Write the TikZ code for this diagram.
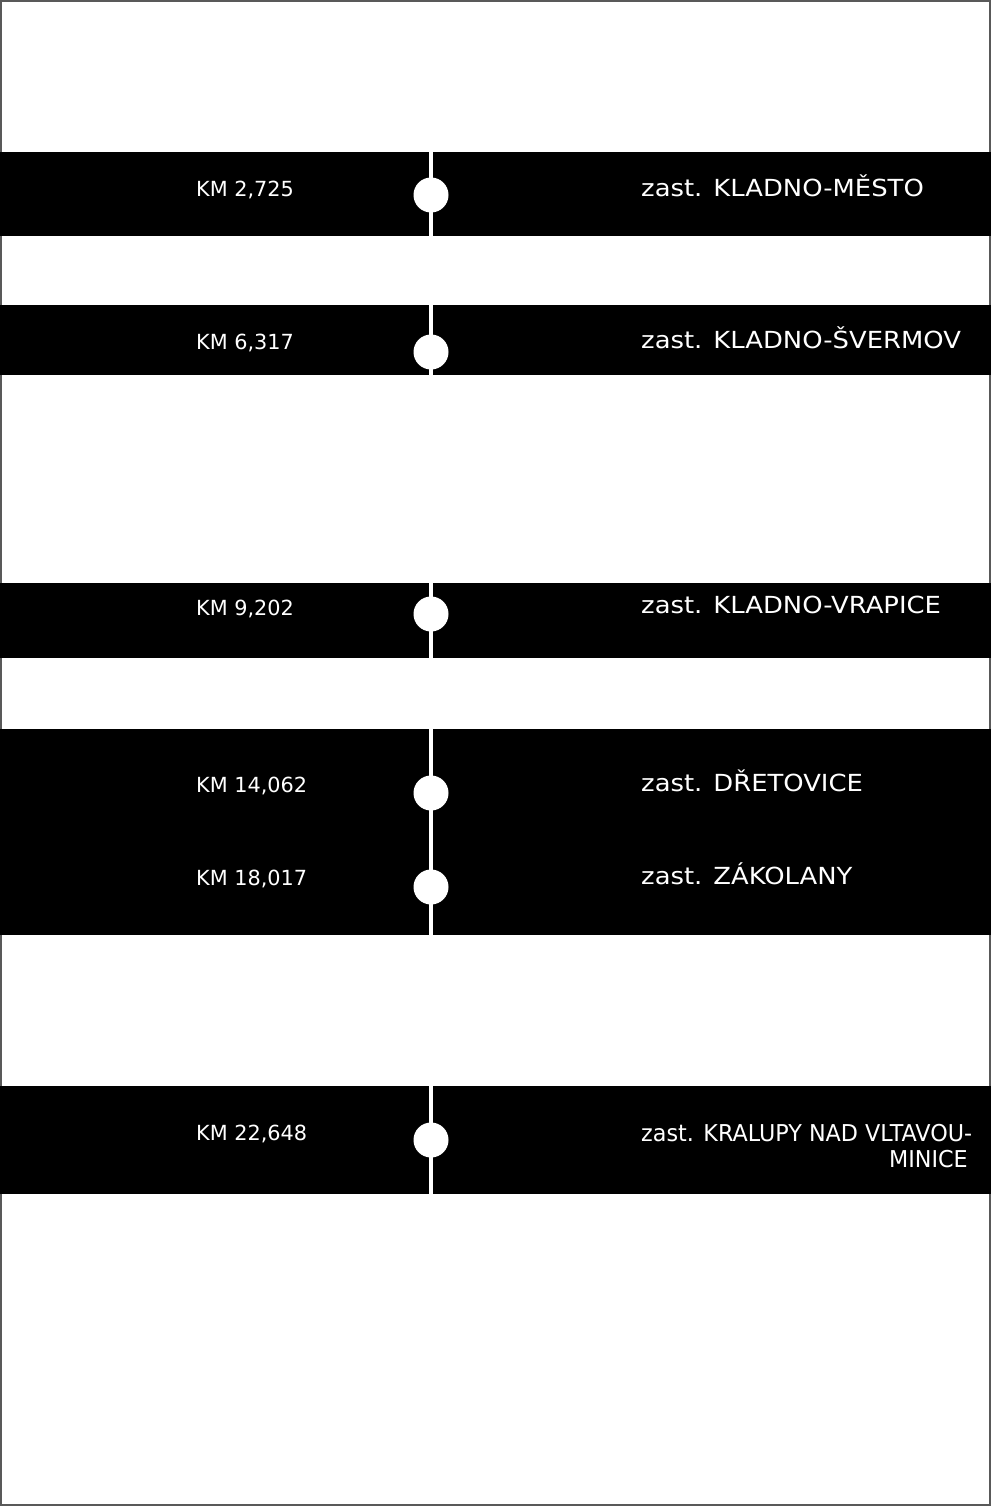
\documentclass[tikz,border=0pt]{standalone}
\usepackage{fontspec}
\setmainfont{DejaVu Sans}
\newfontfamily\widefont[FakeStretch=1.1]{DejaVu Sans}
\newfontfamily\narrowfont[FakeStretch=0.96]{DejaVu Sans}
\tikzset{
  kmlabel/.style={anchor=base west,inner sep=0pt,text=white,font=\fontsize{20.8}{24}\selectfont},
  stoplabel/.style={anchor=base west,inner sep=0pt,text=white,font=\widefont\fontsize{23.5}{26}\selectfont},
  longstop/.style={inner sep=0pt,text=white,font=\narrowfont\fontsize{23.2}{26}\selectfont},
  stopdot/.style={circle,fill=white,minimum size=35pt,inner sep=0pt}
}
\begin{document}
\begin{tikzpicture}[x=1pt,y=-1pt]
      \useasboundingbox (0,0) rectangle (991,1506);
      \fill [white] (0,0) rectangle (991,1506);
      \draw [black!65,line width=1.8pt] (0.9,0.9) rectangle (990.1,1505.1);
      \foreach \a/\b in {152/236,305/375,583/658,729/935,1086/1194}
      \fill (0,\a) rectangle (991,\b);

      \coordinate (top) at (431,152);
      \coordinate (bot) at (431,1194);
      \draw [white,line width=4pt] (top) -- (bot);

      \node [stopdot] (mesto) at (431,195) {};
      \node [stopdot] (svermov) at (431,352) {};
      \node [stopdot] (vrapice) at (431,614) {};
      \node [stopdot] (dretovice) at (431,793) {};
      \node [stopdot] (zakolany) at (431,887) {};
      \node [stopdot] (minice) at (431,1140) {};

      \node [kmlabel] (kmmesto) at (196,197) {KM 2,725};
      \node [kmlabel] (kmsvermov) at (196,349) {KM 6,317};
      \node [kmlabel] (kmvrapice) at (196,615) {KM 9,202};
      \node [kmlabel] (kmdretovice) at (196,792) {KM 14,062};
      \node [kmlabel] (kmzakolany) at (196,885) {KM 18,017};
      \node [kmlabel] (kmminice) at (196,1140) {KM 22,648};

      \node [stoplabel] (nmesto) at (641,197) {zast. KLADNO-MĚSTO};
      \node [stoplabel] (nsvermov) at (641,348) {zast. KLADNO-ŠVERMOV};
      \node [stoplabel] (nvrapice) at (641,613) {zast. KLADNO-VRAPICE};
      \node [stoplabel] (ndretovice) at (641,791) {zast. DŘETOVICE};
      \node [stoplabel] (nzakolany) at (641,884) {zast. ZÁKOLANY};
      \node [longstop,anchor=base west] (nminice) at (641,1141) {zast. KRALUPY NAD VLTAVOU-};
      \node [longstop,anchor=base east] (nminice2) at (968,1167) {MINICE};
    \end{tikzpicture}
\end{document}
